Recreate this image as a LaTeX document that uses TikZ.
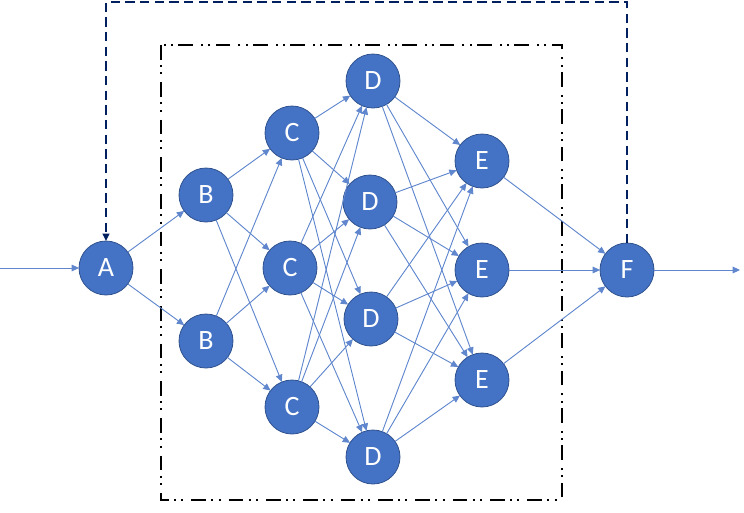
\documentclass[tikz,border=0pt]{standalone}
\usepackage{fontspec}
\setmainfont{Carlito}
\usetikzlibrary{arrows.meta}
\definecolor{nodeblue}{HTML}{4472C4}
\definecolor{nodeborder}{HTML}{2F528F}
\definecolor{navy}{HTML}{002060}
\begin{document}
\begin{tikzpicture}[
          x=0.75pt, y=-0.75pt,
          unit/.style={circle, draw=nodeborder, line width=0.6pt, fill=nodeblue, text=white,
                       minimum size=40.5pt, inner sep=0pt, outer sep=0pt,
                       font=\fontsize{21}{24}\selectfont},
          link/.style={-{Triangle[length=5.5pt, width=5pt]}, draw=nodeblue!85, line width=0.7pt},
          feedback/.style={-{Triangle[length=5.5pt, width=5pt]}, draw=navy, line width=1.5pt,
                           dash pattern=on 7pt off 4pt},
          layerbox/.style={draw=black, line width=1.6pt,
                           dash pattern=on 11pt off 4pt on 1.5pt off 4pt on 1.5pt off 6pt}
        ]
          \useasboundingbox (0,0) rectangle (744,512);

          % Hidden block
          \draw[layerbox] (161,45) rectangle (562,500);

          % Units
          \node[unit] (a) at (106,268) {A};
          \node[unit] (b1) at (206,195) {B};
          \node[unit] (b2) at (206,341) {B};
          \node[unit] (c1) at (292,133) {C};
          \node[unit] (c2) at (290,268) {C};
          \node[unit] (c3) at (292,407) {C};
          \node[unit] (d1) at (373,81) {D};
          \node[unit] (d2) at (370,202) {D};
          \node[unit] (d3) at (371,319) {D};
          \node[unit] (d4) at (373,457) {D};
          \node[unit] (e1) at (482,161) {E};
          \node[unit] (e2) at (482,270) {E};
          \node[unit] (e3) at (482,380) {E};
          \node[unit] (f) at (627,270) {F};

          % Ends
          \coordinate (in) at (0,268);
          \coordinate (out) at (740,270);
          \coordinate (fbR) at (627,2);
          \coordinate (fbL) at (106,2);

          % Input and output
          \draw[link] (in) -- (a.west);
          \draw[link] (f.east) -- (out);

          % A to B
          \draw[link] (a) -- (b1);
          \draw[link] (a) -- (b2);

          % B to C
          \draw[link] (b1) -- (c1);
          \draw[link] (b1) -- (c2);
          \draw[link] (b1) -- (c3);
          \draw[link] (b2) -- (c1);
          \draw[link] (b2) -- (c2);
          \draw[link] (b2) -- (c3);

          % C to D
          \draw[link] (c1) -- (d1);
          \draw[link] (c1) -- (d2);
          \draw[link] (c1) -- (d3);
          \draw[link] (c1) -- (d4);
          \draw[link] (c2) -- (d1);
          \draw[link] (c2) -- (d2);
          \draw[link] (c2) -- (d3);
          \draw[link] (c2) -- (d4);
          \draw[link] (c3) -- (d1);
          \draw[link] (c3) -- (d2);
          \draw[link] (c3) -- (d3);
          \draw[link] (c3) -- (d4);

          % D to E
          \draw[link] (d1) -- (e1);
          \draw[link] (d1) -- (e2);
          \draw[link] (d1) -- (e3);
          \draw[link] (d2) -- (e1);
          \draw[link] (d2) -- (e2);
          \draw[link] (d2) -- (e3);
          \draw[link] (d3) -- (e1);
          \draw[link] (d3) -- (e2);
          \draw[link] (d3) -- (e3);
          \draw[link] (d4) -- (e1);
          \draw[link] (d4) -- (e2);
          \draw[link] (d4) -- (e3);

          % E to F
          \draw[link] (e1) -- (f);
          \draw[link] (e2) -- (f);
          \draw[link] (e3) -- (f);

          % Feedback
          \draw[feedback] (f.north) -- (fbR) -- (fbL) -- (a.north);
        \end{tikzpicture}
\end{document}
